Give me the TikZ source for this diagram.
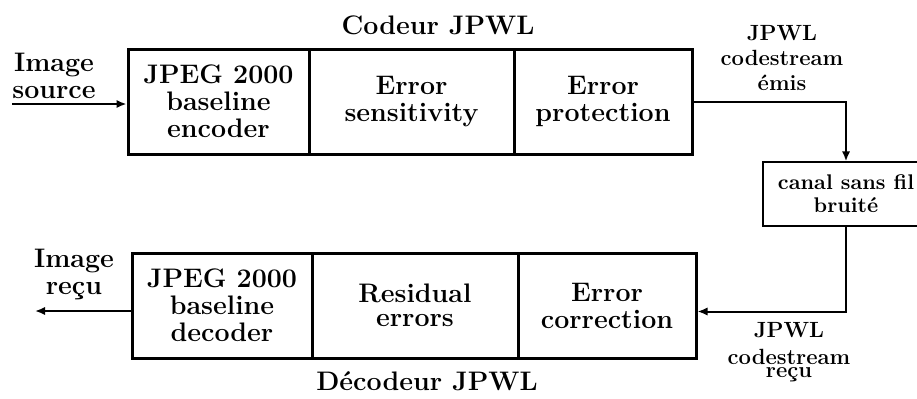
\documentclass[tikz,border=0pt]{standalone}
\usepackage{fontspec}
\usetikzlibrary{
	arrows.meta,
	calc
}

\tikzset{
	cell/.style={draw, line width=1.5pt, minimum height=52.5pt, inner sep=0pt, align=center, font=\bfseries\fontsize{13.4}{13.5}\selectfont},
	lbl/.style={align=center, inner sep=0pt, font=\bfseries\fontsize{13.4}{13.5}\selectfont},
	smalllbl/.style={align=center, inner sep=0pt, font=\bfseries\fontsize{11}{12.5}\selectfont},
	link/.style={line width=1pt, >={Latex[length=5pt,width=4.2pt]}}
}

\begin{document}
\begin{tikzpicture}[x=0.5pt, y=-0.5pt]
                \clip (0,0) rectangle (917,398);
                \node[cell, minimum width=90.5pt] (enc) at (218.5,101.5) {JPEG 2000\\baseline\\encoder};
                \node[cell, minimum width=102.5pt] (sens) at (411.5,101.5) {Error\\sensitivity};
                \node[cell, minimum width=89pt] (prot) at (603,101.5) {Error\\protection};
                \node[cell, minimum width=90pt] (dec) at (222,305.5) {JPEG 2000\\baseline\\decoder};
                \node[cell, minimum width=103pt] (resid) at (415,305.5) {Residual\\[-1.5pt]errors};
                \node[cell, minimum width=89pt] (corr) at (607,305.5) {Error\\correction};
                \node[draw, line width=0.7pt, minimum width=83pt, minimum height=32pt, inner sep=0pt, align=center, font=\bfseries\fontsize{10.6}{11.5}\selectfont] (chan) at (846,194) {canal sans fil\\bruité};
                \node[lbl] (titlecod) at (438,25) {Codeur JPWL};
                \node[lbl] (titledec) at (427,381) {Décodeur JPWL};
                \node[lbl] (imgsrc) at (54,76) {Image\\source};
                \node[lbl] (imgrec) at (74,274) {Image\\reçu};
                \node[smalllbl] (emis) at (782,58) {JPWL\\codestream\\émis};
                \node[smalllbl] (recu) at (789,352) {JPWL\\[1pt]codestream\\[-6pt]reçu};
                \coordinate (src) at (12,104);
                \coordinate (dst) at (35,311);
                \draw[link, ->] (src) -- (src -| enc.west);
                \draw[link, ->] (prot.east) -| (chan.north);
                \draw[link, ->] (chan.south) |- ([yshift=-3pt]corr.east);
                \draw[link, <-] (dst) -- (dst -| dec.west);
            \end{tikzpicture}
\end{document}
